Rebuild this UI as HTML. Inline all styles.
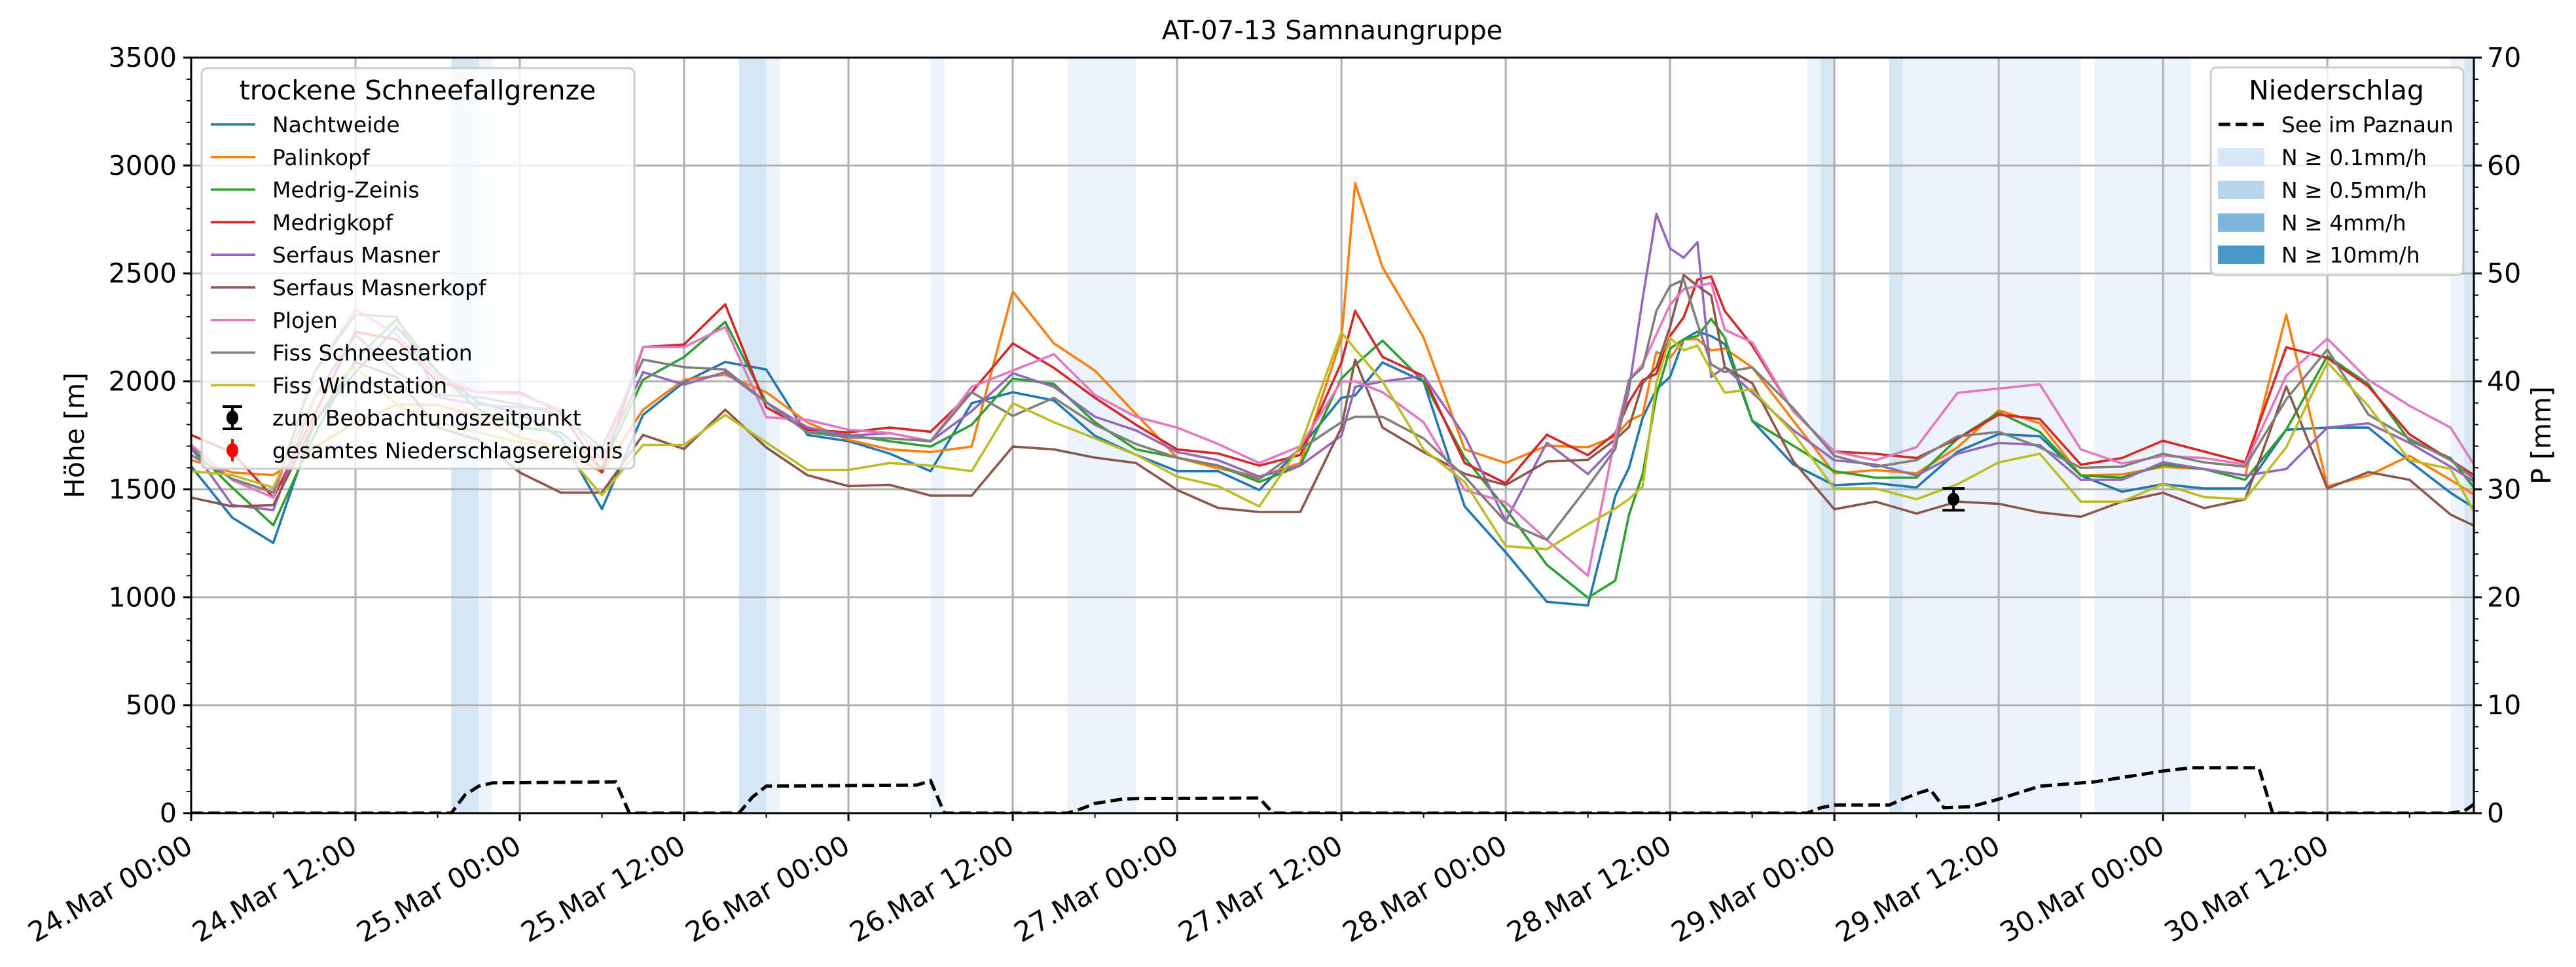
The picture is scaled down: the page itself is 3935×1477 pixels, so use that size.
<!DOCTYPE html>
<html><head><meta charset="utf-8"><style>
html,body{margin:0;padding:0;background:#fff;}
svg{display:block;font-family:"DejaVu Sans","Liberation Sans",sans-serif;}
</style></head><body>
<svg id="chart" width="3935" height="1477" viewBox="0 0 3935 1477" xmlns="http://www.w3.org/2000/svg">
<defs><clipPath id="plotclip"><rect x="292" y="88" width="3487" height="1154"/></clipPath></defs>
<rect x="0" y="0" width="3935" height="1477" fill="#fff"/>
<g id="bands" clip-path="url(#plotclip)"></g>
<g id="grid"></g>
<g id="series" clip-path="url(#plotclip)"></g>
<g id="precip" clip-path="url(#plotclip)"></g>
<g id="axes"></g>
<text x="2035" y="60" font-size="40" text-anchor="middle">AT-07-13 Samnaungruppe</text>
<text transform="translate(128,665) rotate(-90)" font-size="41" text-anchor="middle">Höhe [m]</text>
<text transform="translate(3896,665) rotate(-90)" font-size="41" text-anchor="middle">P [mm]</text>
<g id="legend-left">
<rect x="308" y="104" width="661" height="612" rx="9" fill="#fff" fill-opacity="0.8" stroke="#cccccc" stroke-width="3"/>
<text x="638" y="152" font-size="41" text-anchor="middle">trockene Schneefallgrenze</text>
</g>
<g id="legend-right">
<rect x="3377" y="103" width="386" height="317" rx="9" fill="#fff" fill-opacity="0.8" stroke="#cccccc" stroke-width="3"/>
<text x="3569" y="152" font-size="41" text-anchor="middle">Niederschlag</text>
<line x1="3389" y1="190" x2="3458" y2="190" stroke="#000" stroke-width="5" stroke-dasharray="18,8"/>
<text x="3485" y="202" font-size="33">See im Paznaun</text>
<rect x="3388" y="226" width="71" height="28" fill="#d7e6f4"/>
<text x="3485" y="252" font-size="33">N ≥ 0.1mm/h</text>
<rect x="3388" y="276" width="71" height="28" fill="#b7d4ea"/>
<text x="3485" y="302" font-size="33">N ≥ 0.5mm/h</text>
<rect x="3388" y="326" width="71" height="28" fill="#7fb6d9"/>
<text x="3485" y="352" font-size="33">N ≥ 4mm/h</text>
<rect x="3388" y="375" width="71" height="28" fill="#4a98c9"/>
<text x="3485" y="401" font-size="33">N ≥ 10mm/h</text>
</g>
</svg>
<script>
const hours = [0,3,6,9,12,15,18,21,24,27,30,33,36,39,42,45,48,51,54,57,60,63,66,69,72,75,78,81,84,85,87,90,93,96,99,102,104,105,106,107,108,109,110,111,112,114,117,120,123,126,129,132,135,138,141,144,147,150,153,156,159,162,165,167];
const stationNames = ["Nachtweide","Palinkopf","Medrig-Zeinis","Medrigkopf","Serfaus Masner","Serfaus Masnerkopf","Plojen","Fiss Schneestation","Fiss Windstation"];
const nachtweide = [1607,1369,1252,1810,2043,2252,2043,1903,1850,1741,1409,1845,1997,2090,2055,1752,1723,1666,1584,1899,1950,1912,1748,1660,1584,1584,1497,1690,1924,1935,2088,2000,1421,1208,979,962,1470,1600,1832,1963,2021,2195,2231,2210,2173,1818,1615,1519,1529,1509,1675,1756,1746,1564,1489,1524,1504,1504,1776,1786,1786,1630,1484,1403];
const palinkopf = [1636,1578,1566,1694,1810,1892,1892,1834,1741,1694,1578,1869,2008,2031,1950,1810,1729,1685,1673,1698,2416,2176,2050,1849,1647,1597,1559,1622,2200,2919,2529,2204,1685,1622,1702,1695,1745,1818,1847,2137,2108,2195,2195,2144,2152,2065,1818,1574,1589,1574,1695,1866,1806,1564,1569,1604,1594,1564,2309,1514,1564,1655,1544,1464];
const medrigZeinis = [1694,1508,1334,1752,2101,2287,2043,1869,1787,1764,1601,2008,2113,2276,1903,1764,1752,1723,1698,1799,2013,1988,1811,1685,1647,1610,1534,1610,2013,2076,2189,2000,1647,1411,1150,998,1077,1382,1571,1934,2152,2195,2210,2290,2202,1818,1702,1584,1554,1554,1735,1856,1766,1564,1554,1614,1594,1544,1776,2118,1987,1725,1645,1484];
const medrigkopf = [1752,1671,1462,1845,2229,2194,1997,1950,1950,1857,1578,2159,2171,2357,1880,1776,1764,1786,1767,1950,2176,2063,1924,1799,1685,1666,1610,1660,2088,2327,2113,2025,1622,1528,1753,1658,1760,1905,2006,2035,2210,2297,2471,2486,2326,2166,1861,1675,1665,1645,1735,1846,1826,1614,1645,1725,1675,1625,2158,2108,1977,1755,1635,1554];
const serfausMasner = [1694,1427,1404,1927,2217,2043,1927,1892,1880,1869,1636,2043,1985,2043,1903,1787,1748,1761,1723,1862,2038,1975,1836,1773,1673,1635,1559,1610,1748,1975,2000,2025,1748,1353,1716,1571,1702,1963,2384,2776,2616,2573,2645,2021,2065,1948,1774,1635,1615,1564,1665,1715,1705,1544,1544,1625,1594,1564,1594,1786,1806,1715,1605,1524];
const serfausMasnerkopf = [1462,1421,1427,1810,2090,2020,1787,1729,1578,1485,1485,1752,1687,1869,1694,1566,1515,1521,1471,1471,1698,1685,1647,1622,1497,1414,1395,1395,1786,2101,1786,1673,1572,1520,1629,1637,1731,1789,1992,2065,2253,2493,2442,2398,2065,1992,1630,1408,1443,1388,1443,1433,1393,1373,1443,1484,1413,1454,1977,1504,1580,1544,1383,1323];
const plojen = [1706,1543,1462,2043,2334,2217,2020,1950,1938,1869,1636,2159,2159,2252,1834,1822,1776,1761,1723,1975,2050,2126,1937,1836,1786,1710,1622,1700,2000,2000,1950,1811,1497,1440,1266,1099,1745,2006,2079,2217,2355,2427,2442,2456,2239,2181,1861,1675,1635,1695,1947,1967,1987,1685,1620,1655,1645,1615,2027,2198,2007,1887,1786,1585];
const fissSchneestation = [1659,1549,1485,2043,2310,2299,1938,1927,1892,1845,1694,2101,2066,2055,1903,1764,1741,1736,1723,1950,1840,1924,1799,1710,1647,1610,1547,1685,1811,1836,1836,1736,1559,1350,1266,1513,1687,2006,2065,2326,2442,2471,2268,2079,2043,2065,1876,1655,1605,1635,1746,1766,1695,1600,1605,1665,1625,1605,1917,2148,1846,1735,1635,1534];
const fissWindstation = [1584,1566,1508,1927,2066,1892,1810,1764,1717,1694,1473,1706,1706,1845,1717,1590,1590,1622,1610,1584,1899,1811,1736,1660,1559,1515,1421,1700,2227,2150,2000,1685,1534,1237,1223,1339,1411,1455,1513,1992,2202,2144,2166,2050,1948,1963,1760,1504,1504,1454,1524,1625,1665,1443,1443,1524,1464,1454,1695,2088,1886,1635,1595,1363];
const precipHours = [0,19,20,21,22,31,32,40,41,42,53,54,55,64,65,66,67,68,69,78,79,118,119,120,124,125,126,127,128,130,132,135,139,144,146,151,152,165,166,167];
const precipValues = [0,0,1.7,2.5,2.8,2.9,0,0,1.5,2.5,2.6,3.0,0,0,0.4,0.9,1.1,1.3,1.35,1.4,0,0,0.5,0.75,0.75,1.3,1.8,2.2,0.5,0.6,1.3,2.5,2.9,3.9,4.2,4.2,0,0,0.2,1.1];
const bandLightStart = [21,42,54,64,118,125,139,165];
const bandLightEnd = [22,43,55,69,119,138,146,166];
const bandDarkStart = [19,40,119,124,166];
const bandDarkEnd = [21,42,120,125,167];
const obsHour = [128.7];
const obsValue = [1454];
const obsErrLow = [1403];
const obsErrHigh = [1504];
const yTicks = [0,500,1000,1500,2000,2500,3000,3500];
const y2Ticks = [0,10,20,30,40,50,60,70];
const xTickHours = [0,12,24,36,48,60,72,84,96,108,120,132,144,156];
const xTickLabels = ["24.Mar 00:00","24.Mar 12:00","25.Mar 00:00","25.Mar 12:00","26.Mar 00:00","26.Mar 12:00","27.Mar 00:00","27.Mar 12:00","28.Mar 00:00","28.Mar 12:00","29.Mar 00:00","29.Mar 12:00","30.Mar 00:00","30.Mar 12:00"];

const NS="http://www.w3.org/2000/svg";
const L=292,R=3779,T=88,B=1242,XMAX=166.7,YMAX=3500,PMAX=70;
function X(t){return L+(R-L)*t/XMAX;}
function Y(v){return B-(B-T)*v/YMAX;}
function YP(p){return B-(B-T)*p/PMAX;}
function mk(tag,attrs,parent){const e=document.createElementNS(NS,tag);for(const k in attrs)e.setAttribute(k,attrs[k]);parent.appendChild(e);return e;}
const colors=["#1f77b4","#ff7f0e","#2ca02c","#d62728","#9467bd","#8c564b","#e377c2","#7f7f7f","#bcbd22"];
const seriesData=[nachtweide,palinkopf,medrigZeinis,medrigkopf,serfausMasner,serfausMasnerkopf,plojen,fissSchneestation,fissWindstation];

const gb=document.getElementById('bands');
for(let i=0;i<bandLightStart.length;i++){
  const r=mk('rect',{x:X(bandLightStart[i]),y:T,width:X(bandLightEnd[i])-X(bandLightStart[i]),height:B-T,fill:'#edf3fa'},gb);
  
  
}
for(let i=0;i<bandDarkStart.length;i++){
  const r=mk('rect',{x:X(bandDarkStart[i]),y:T,width:X(bandDarkEnd[i])-X(bandDarkStart[i]),height:B-T,fill:'#d6e6f4'},gb);
  
  
}
const gg=document.getElementById('grid');
yTicks.forEach(v=>{const l=mk('line',{x1:L,x2:R,y1:Y(v),y2:Y(v),stroke:'#b0b0b0','stroke-width':3},gg);
  
  });
xTickHours.forEach(t=>{const l=mk('line',{x1:X(t),x2:X(t),y1:T,y2:B,stroke:'#b0b0b0','stroke-width':3},gg);
  
  });

const gs=document.getElementById('series');
seriesData.forEach((d,i)=>{
  const pts=hours.map((t,j)=>X(t).toFixed(1)+','+Y(d[j]).toFixed(1)).join(' ');
  const p=mk('polyline',{points:pts,fill:'none',stroke:colors[i],'stroke-width':3.6,'stroke-linejoin':'round'},gs);
  
  
});
// observation errorbar
obsHour.forEach((t,i)=>{
  const g=mk('g',{},gs);
  
  
  mk('line',{x1:X(t),x2:X(t),y1:Y(obsErrLow[i]),y2:Y(obsErrHigh[i]),stroke:'#000','stroke-width':4},g);
  mk('line',{x1:X(t)-17,x2:X(t)+17,y1:Y(obsErrLow[i]),y2:Y(obsErrLow[i]),stroke:'#000','stroke-width':4},g);
  mk('line',{x1:X(t)-17,x2:X(t)+17,y1:Y(obsErrHigh[i]),y2:Y(obsErrHigh[i]),stroke:'#000','stroke-width':4},g);
  mk('ellipse',{cx:X(t),cy:Y(obsValue[i]),rx:9,ry:10,fill:'#000'},g);
});
const gp=document.getElementById('precip');
const pp=mk('polyline',{points:precipHours.map((t,j)=>X(t).toFixed(1)+','+YP(precipValues[j]).toFixed(1)).join(' '),fill:'none',stroke:'#000','stroke-width':5,'stroke-dasharray':'18,8'},gp);



const ga=document.getElementById('axes');
mk('rect',{x:L,y:T,width:R-L,height:B-T,fill:'none',stroke:'#000','stroke-width':3},ga);
yTicks.forEach(v=>{mk('line',{x1:L-12,x2:L,y1:Y(v),y2:Y(v),stroke:'#000','stroke-width':3},ga);
  const tx=mk('text',{x:L-22,y:Y(v)+14,'font-size':41,'text-anchor':'end'},ga);tx.textContent=v;
  
  });
for(let v=100;v<3500;v+=100){if(v%500)mk('line',{x1:L-7,x2:L,y1:Y(v),y2:Y(v),stroke:'#000','stroke-width':2},ga);}
y2Ticks.forEach(v=>{mk('line',{x1:R,x2:R+12,y1:YP(v),y2:YP(v),stroke:'#000','stroke-width':3},ga);
  const tx=mk('text',{x:R+20,y:YP(v)+14,'font-size':41},ga);tx.textContent=v;
  
  });
for(let v=2;v<70;v+=2){if(v%10)mk('line',{x1:R,x2:R+7,y1:YP(v),y2:YP(v),stroke:'#000','stroke-width':2},ga);}
xTickHours.forEach((t,i)=>{mk('line',{x1:X(t),x2:X(t),y1:B,y2:B+12,stroke:'#000','stroke-width':3},ga);
  const tx=mk('text',{transform:'translate('+(X(t)+5)+',1300) rotate(-30)','font-size':42,'text-anchor':'end'},ga);tx.textContent=xTickLabels[i];
  
  });
for(let t=6;t<XMAX;t+=12){mk('line',{x1:X(t),x2:X(t),y1:B,y2:B+7,stroke:'#000','stroke-width':2},ga);}

// left legend entries
const gl=document.getElementById('legend-left');
stationNames.forEach((n,i)=>{const y=190+i*49.8;
  const l=mk('line',{x1:322,x2:390,y1:y,y2:y,stroke:colors[i],'stroke-width':3.6},gl);
  
  
  const tx=mk('text',{x:416,y:y+12,'font-size':33},gl);tx.textContent=n;
  
  });
[["#000","zum Beobachtungszeitpunkt"],["#ff0000","gesamtes Niederschlagsereignis"]].forEach((e,k)=>{const y=638+k*49.8;
  mk('line',{x1:355,x2:355,y1:y-17,y2:y+17,stroke:e[0],'stroke-width':4},gl);
  if(k==0){mk('line',{x1:340,x2:370,y1:y-17,y2:y-17,stroke:e[0],'stroke-width':4},gl);mk('line',{x1:340,x2:370,y1:y+17,y2:y+17,stroke:e[0],'stroke-width':4},gl);}
  mk('ellipse',{cx:355,cy:y,rx:9,ry:11,fill:e[0]},gl);
  const tx=mk('text',{x:416,y:y+12,'font-size':33},gl);tx.textContent=e[1];
  
  });
</script>
</body></html>
